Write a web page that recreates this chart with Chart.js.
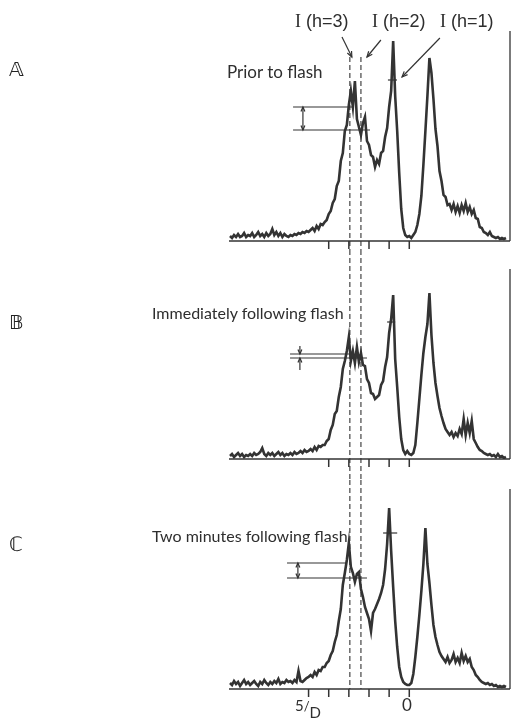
<!DOCTYPE html>
<html>
<head>
<meta charset="utf-8">
<script src="https://cdn.jsdelivr.net/npm/chart.js@4.4.1/dist/chart.umd.min.js"></script>
<style>
  body { margin: 0; width: 512px; height: 723px; background: #fff; position: relative; overflow: hidden;
         font-family: Lato, "DejaVu Sans", sans-serif; color: #2e2e2e; }
  canvas { position: absolute; left: 0; }
  .t { position: absolute; white-space: nowrap; line-height: 1; }
  .lbl { font-size: 16px; }
  .hdr { font-family: "Liberation Sans", sans-serif; font-size: 18px; }
  .hdr b { font-family: "Liberation Serif", serif; font-weight: normal; }
  .pan { font-family: "DejaVu Sans", sans-serif; font-size: 20px; color: #222; }
</style>
</head>
<body>
<canvas id="cA" width="512" height="250" style="top:0px"></canvas>
<canvas id="cB" width="512" height="230" style="top:250px"></canvas>
<canvas id="cC" width="512" height="243" style="top:480px"></canvas>

<div class="t hdr" style="left:295px;top:12px"><b>I</b> (h=3)</div>
<div class="t hdr" style="left:372px;top:12px"><b>I</b> (h=2)</div>
<div class="t hdr" style="left:440px;top:12px"><b>I</b> (h=1)</div>

<div class="t pan" style="left:9px;top:59px">𝔸</div>
<div class="t lbl" style="left:227px;top:63px;font-size:17px">Prior to flash</div>
<div class="t pan" style="left:9px;top:312px">𝔹</div>
<div class="t lbl" style="left:152px;top:305px">Immediately following flash</div>
<div class="t pan" style="left:9px;top:534px">ℂ</div>
<div class="t lbl" style="left:152px;top:528px">Two minutes following flash</div>

<div class="t" style="left:295px;top:698px;font-size:15px">5<span style="font-size:13px">/</span><span style="position:relative;top:7px">D</span></div>
<div class="t" style="left:402px;top:696px;font-size:17px">0</div>

<script>
// position along the trace, in tick units (5/D ... 0 ... right side)
const shift = [
  8.9, 8.8, 8.7, 8.6, 8.5, 8.4, 8.3, 8.2, 8.1, 8.0,
  7.9, 7.8, 7.7, 7.6, 7.5, 7.4, 7.3, 7.2, 7.1, 7.0,
  6.9, 6.8, 6.7, 6.6, 6.5, 6.4, 6.3, 6.2, 6.1, 6.0,
  5.9, 5.8, 5.7, 5.6, 5.5, 5.4, 5.3, 5.2, 5.1, 5.0,
  4.9, 4.8, 4.7, 4.6, 4.5, 4.4, 4.3, 4.2, 4.1, 4.0,
  3.9, 3.8, 3.7, 3.6, 3.5, 3.4, 3.3, 3.2, 3.1, 3.0,
  2.9, 2.8, 2.7, 2.6, 2.5, 2.4, 2.3, 2.2, 2.1, 2.0,
  1.9, 1.8, 1.7, 1.6, 1.5, 1.4, 1.3, 1.2, 1.1, 1.0,
  0.9, 0.8, 0.7, 0.6, 0.5, 0.4, 0.3, 0.2, 0.1, 0.0,
  -0.1, -0.2, -0.3, -0.4, -0.5, -0.6, -0.7, -0.8, -0.9, -1.0,
  -1.1, -1.2, -1.3, -1.4, -1.5, -1.6, -1.7, -1.8, -1.9, -2.0,
  -2.1, -2.2, -2.3, -2.4, -2.5, -2.6, -2.7, -2.8, -2.9, -3.0,
  -3.1, -3.2, -3.3, -3.4, -3.5, -3.6, -3.7, -3.8, -3.9, -4.0,
  -4.1, -4.2, -4.3, -4.4, -4.5, -4.6, -4.7, -4.8
];

// A: prior to flash
const priorToFlash = [
  5, 3, 6, 4, 7, 4, 5, 8, 4, 6,
  5, 8, 4, 6, 9, 5, 7, 4, 8, 5,
  7, 12, 6, 9, 5, 8, 4, 7, 5, 4,
  6, 5, 7, 6, 8, 7, 9, 8, 10, 9,
  11, 13, 10, 15, 12, 17, 16, 19, 21, 27,
  30, 38, 42, 55, 60, 80, 88, 110, 116, 136,
  150, 134, 160, 122, 114, 106, 118, 124, 100, 96,
  86, 84, 74, 81, 77, 88, 90, 104, 113, 134,
  150, 200, 145, 110, 68, 32, 13, 6, 4, 5,
  3, 6, 9, 16, 27, 45, 76, 110, 145, 183,
  168, 142, 112, 95, 70, 60, 46, 44, 36, 37,
  31, 37, 29, 35, 28, 36, 30, 38, 29, 34,
  27, 31, 23, 22, 14, 13, 9, 8, 6, 9,
  5, 4, 3, 4, 2, 3, 2, 3
];

// B: immediately following flash
const afterFlash = [
  3, 5, 2, 4, 6, 3, 5, 2, 4, 3,
  5, 3, 6, 4, 5, 7, 11, 5, 3, 6,
  4, 6, 3, 5, 7, 4, 6, 3, 5, 4,
  6, 4, 7, 5, 6, 8, 6, 9, 7, 8,
  10, 8, 12, 9, 13, 12, 14, 14, 18, 20,
  29, 34, 45, 48, 62, 72, 90, 98, 108, 122,
  98, 108, 96, 112, 97, 106, 94, 93, 80, 76,
  66, 65, 60, 62, 64, 74, 78, 92, 102, 126,
  140, 164, 100, 72, 42, 20, 9, 5, 8, 5,
  4, 6, 14, 36, 60, 84, 106, 122, 135, 166,
  124, 96, 76, 63, 51, 43, 36, 30, 27, 24,
  27, 22, 26, 23, 30, 25, 40, 24, 36, 26,
  38, 20, 16, 12, 9, 8, 6, 5, 4, 5,
  3, 4, 2, 5, 2, 3, 1, 2
];

// C: two minutes following flash
const twoMinutes = [
  6, 4, 8, 5, 7, 3, 6, 9, 5, 7,
  4, 6, 8, 5, 3, 7, 5, 9, 6, 4,
  7, 5, 8, 6, 10, 5, 7, 6, 9, 7,
  8, 6, 9, 7, 18, 8, 7, 9, 11, 12,
  14, 12, 17, 14, 19, 18, 22, 22, 26, 28,
  34, 38, 47, 54, 68, 80, 104, 116, 129, 146,
  122, 116, 107, 115, 117, 100, 92, 82, 76, 70,
  58, 76, 80, 85, 90, 96, 104, 120, 145, 181,
  138, 102, 68, 42, 22, 12, 7, 5, 4, 4,
  6, 15, 32, 52, 74, 98, 125, 161, 125, 106,
  84, 64, 52, 44, 37, 33, 30, 27, 32, 26,
  29, 35, 27, 31, 26, 36, 28, 33, 27, 30,
  22, 19, 14, 12, 9, 7, 6, 5, 6, 4,
  5, 3, 4, 2, 3, 2, 3, 2
];

const ticksAB = [4, 3, 2, 1, 0];
const ticksC = [5, 4, 3, 2, 1, 0];
const dashedAt = [2.95, 2.4];

const ink = '#333333';

function seg(ctx, x1, y1, x2, y2) {
  ctx.beginPath(); ctx.moveTo(x1, y1); ctx.lineTo(x2, y2); ctx.stroke();
}
function head(ctx, x1, y1, x2, y2, s) {
  const ang = Math.atan2(y2 - y1, x2 - x1);
  ctx.beginPath();
  ctx.moveTo(x2 - s * Math.cos(ang - 0.4), y2 - s * Math.sin(ang - 0.4));
  ctx.lineTo(x2, y2);
  ctx.lineTo(x2 - s * Math.cos(ang + 0.4), y2 - s * Math.sin(ang + 0.4));
  ctx.stroke();
}

const deco = {
  id: 'deco',
  afterDatasetsDraw(chart, args, o) {
    const ctx = chart.ctx, a = chart.chartArea;
    const X = v => chart.scales.x.getPixelForValue(v);
    const Y = v => chart.scales.y.getPixelForValue(v);
    ctx.save();
    ctx.strokeStyle = ink;
    ctx.lineWidth = 1.5;
    seg(ctx, a.left, a.bottom, a.right, a.bottom);
    o.ticks.forEach(t => seg(ctx, X(t), a.bottom, X(t), a.bottom + 8));
    ctx.lineWidth = 1.3;
    seg(ctx, a.right, a.top, a.right, a.bottom);

    // ratio bars
    ctx.lineWidth = 1.2;
    const r = o.ratio;
    seg(ctx, X(r.from), Y(r.hi), X(r.toHi), Y(r.hi));
    seg(ctx, X(r.from), Y(r.lo), X(r.toLo), Y(r.lo));
    if (r.inward) {
      seg(ctx, X(r.at), Y(r.hi + 8), X(r.at), Y(r.hi));
      head(ctx, X(r.at), Y(r.hi + 8), X(r.at), Y(r.hi), 5);
      seg(ctx, X(r.at), Y(r.lo - 12), X(r.at), Y(r.lo));
      head(ctx, X(r.at), Y(r.lo - 12), X(r.at), Y(r.lo), 5);
    } else {
      seg(ctx, X(r.at), Y(r.hi), X(r.at), Y(r.lo));
      head(ctx, X(r.at), Y(r.lo), X(r.at), Y(r.hi), 5);
      head(ctx, X(r.at), Y(r.hi), X(r.at), Y(r.lo), 5);
    }
    // small mark on the h=2 peak
    const m = o.mark;
    seg(ctx, X(m.from), Y(m.h), X(m.to), Y(m.h));

    // pointers from the header labels
    (o.pointers || []).forEach(p => {
      seg(ctx, X(p[0]), Y(p[1]), X(p[2]), Y(p[3]));
      head(ctx, X(p[0]), Y(p[1]), X(p[2]), Y(p[3]), 6);
    });

    // dashed guides through all panels
    ctx.lineWidth = 1.1;
    ctx.setLineDash([5, 3]);
    const y0 = o.dashFrom == null ? 0 : Y(o.dashFrom);
    const y1 = o.dashTo == null ? chart.height : Y(o.dashTo);
    dashedAt.forEach(d => seg(ctx, X(d), y0, X(d), y1));
    ctx.restore();
  }
};

function panel(id, values, yMax, padTop, padBottom, opts) {
  new Chart(document.getElementById(id), {
    type: 'line',
    data: {
      datasets: [{
        data: shift.map((s, i) => ({ x: s, y: values[i] })),
        borderColor: ink,
        borderWidth: 2.6,
        borderJoinStyle: 'miter',
        pointRadius: 0,
        tension: 0,
        fill: false
      }]
    },
    options: {
      responsive: false,
      animation: false,
      layout: { padding: { left: 229, right: 2, top: padTop, bottom: padBottom } },
      scales: {
        x: { type: 'linear', reverse: true, min: -5.0, max: 8.95, display: false },
        y: { min: 0, max: yMax, display: false }
      },
      plugins: { legend: { display: false }, tooltip: { enabled: false }, deco: opts }
    },
    plugins: [deco]
  });
}

panel('cA', priorToFlash, 210, 31, 9, {
  ticks: ticksAB, dashFrom: 184, dashTo: null,
  ratio: { from: 5.77, toHi: 2.8, toLo: 1.95, hi: 134, lo: 111, at: 5.28, inward: false },
  mark: { from: 1.06, to: 0.61, h: 161 },
  pointers: [[3.34, 204, 2.85, 184], [1.41, 201, 2.10, 184], [-1.52, 203, 0.36, 164]]
});
panel('cB', afterFlash, 190, 19, 21, {
  ticks: ticksAB, dashFrom: null, dashTo: null,
  ratio: { from: 5.92, toHi: 2.95, toLo: 2.1, hi: 105, lo: 101, at: 5.43, inward: true },
  mark: { from: 1.1, to: 0.7, h: 137 }
});
panel('cC', twoMinutes, 200, 9, 34, {
  ticks: ticksC, dashFrom: null, dashTo: 0,
  ratio: { from: 6.07, toHi: 3.1, toLo: 2.1, hi: 126, lo: 111, at: 5.53, inward: false },
  mark: { from: 1.3, to: 0.6, h: 156 }
});
</script>
</body>
</html>
